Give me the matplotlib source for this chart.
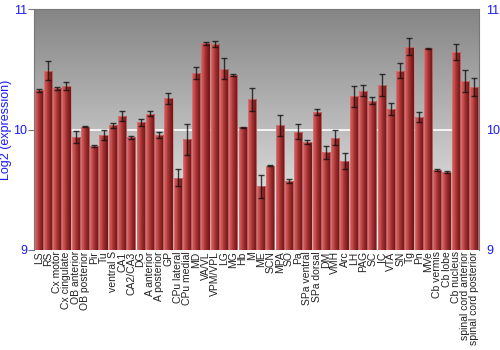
import matplotlib
matplotlib.use('Agg')
import matplotlib.pyplot as plt
import numpy as np
from matplotlib.colors import LinearSegmentedColormap

plt.rcParams['font.family'] = ['Liberation Sans', 'DejaVu Sans']

# Brain regions and log2 expression (mean, error)
regions = ['LS', 'RS', 'Cx motor', 'Cx cingulate', 'OB anterior', 'OB posterior',
           'Pir', 'Tu', 'ventral S', 'CA1', 'CA2/CA3', 'DG', 'A anterior',
           'A posterior', 'GP', 'CPu lateral', 'CPu medial', 'MD', 'VA/VL',
           'VPM/VPL', 'LG', 'MG', 'Hb', 'M', 'ME', 'SCN', 'MPA', 'SO', 'Pa',
           'SPa ventral', 'SPa dorsal', 'DM', 'VMH', 'Arc', 'LH', 'PAG', 'SC',
           'IC', 'VTA', 'SN', 'Tg', 'Pn', 'MVe', 'Cb vermis', 'Cb lobe',
           'Cb nucleus', 'spinal cord anterior', 'spinal cord posterior']
values = [10.325, 10.49, 10.342, 10.364, 9.934, 10.023, 9.863, 9.952, 10.035,
          10.115, 9.935, 10.061, 10.131, 9.952, 10.259, 9.60, 9.917, 10.469,
          10.715, 10.712, 10.505, 10.452, 10.017, 10.25, 9.527, 9.699, 10.035,
          9.573, 9.982, 9.896, 10.143, 9.81, 9.932, 9.738, 10.278, 10.322,
          10.24, 10.372, 10.171, 10.488, 10.689, 10.105, 10.675, 9.667, 9.647,
          10.642, 10.402, 10.35]
errors = [0.014, 0.083, 0.014, 0.032, 0.05, 0.005, 0.008, 0.04, 0.019, 0.041,
          0.011, 0.03, 0.019, 0.026, 0.047, 0.069, 0.129, 0.053, 0.014, 0.025,
          0.087, 0.011, 0.003, 0.094, 0.097, 0.006, 0.087, 0.019, 0.065, 0.019,
          0.025, 0.053, 0.061, 0.063, 0.087, 0.047, 0.028, 0.091, 0.05, 0.063,
          0.069, 0.039, 0.006, 0.008, 0.006, 0.066, 0.091, 0.074]

y_min, y_max = 9, 11
blue = '#1a1aff'

fig = plt.figure(figsize=(5, 3.5), dpi=100)
ax = fig.add_axes([0.068, 0.286, 0.89, 0.688])

n = len(regions)
x = np.arange(n)
ax.set_xlim(-0.5, n - 0.5)
ax.set_ylim(y_min, y_max)

# background gradient, light at top, darker at bottom
bg = np.linspace(0, 1, 256).reshape(-1, 1)
bg_cmap = LinearSegmentedColormap.from_list('bg', ['#f5f5f5', '#858585'])
ax.imshow(bg, cmap=bg_cmap, aspect='auto', extent=(-0.5, n - 0.5, y_max, y_min),
          zorder=0)
ax.axhline(10, color='white', lw=1.2, zorder=1)

# shaded bars
bar_cmap = LinearSegmentedColormap.from_list(
    'bar', ['#b84848', '#d05656', '#b03a3a', '#962a2a', '#7e1e1e', '#6c1818'])
shade = np.linspace(0, 1, 64).reshape(1, -1)
bars = ax.bar(x, np.array(values) - y_min, bottom=y_min, width=0.88,
              color='none', edgecolor='#d88080', linewidth=0.5, zorder=3)
for b in bars:
    x0, y0 = b.get_x(), b.get_y()
    w, h = b.get_width(), b.get_height()
    im = ax.imshow(shade, cmap=bar_cmap, aspect='auto',
                   extent=(x0, x0 + w, y0, y0 + h), zorder=2)
    im.set_clip_path(b)

ax.errorbar(x, values, yerr=errors, fmt='none', ecolor='#111111', elinewidth=1,
            capsize=2, capthick=1, alpha=0.8, zorder=4)

ax.set_xticks(x)
ax.set_xticklabels(regions, rotation=90, fontsize=7.5, color='#222222')
ax.tick_params(axis='x', length=0, pad=1)

ax.set_yticks([9, 10, 11])
ax.tick_params(axis='y', colors='#777777', labelcolor=blue, labelsize=9,
               length=4, left=True, right=True, labelleft=True, labelright=True,
               direction='out', pad=1)
for t in ax.yaxis.get_major_ticks():
    t.tick2line.set_visible(False)
ax.set_ylabel('Log2 (expression)', color=blue, fontsize=9, labelpad=1)

for side in ['top', 'left', 'right']:
    ax.spines[side].set_color('#777777')
    ax.spines[side].set_linewidth(0.8)
ax.spines['bottom'].set_visible(False)

fig.savefig('out.png', dpi=100)
